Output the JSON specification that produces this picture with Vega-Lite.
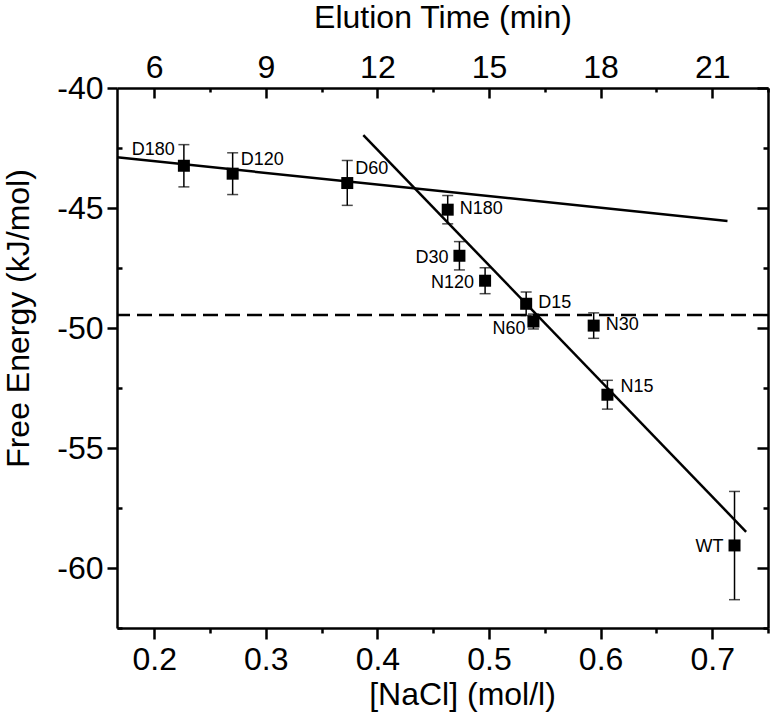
{
  "$schema": "https://vega.github.io/schema/vega-lite/v6.json",
  "autosize": "none",
  "padding": {"left": 117, "top": 88, "right": 4, "bottom": 95},
  "width": 651,
  "height": 540,
  "background": "white",
  "config": {
    "font": "Liberation Sans",
    "view": {"stroke": null},
    "axis": {
      "grid": false,
      "domainColor": "black",
      "tickColor": "black",
      "labelColor": "black",
      "titleColor": "black",
      "domainWidth": 2.5,
      "tickWidth": 2.5,
      "labelFont": "Liberation Sans",
      "titleFont": "Liberation Sans",
      "titleFontWeight": "normal",
      "labelFontSize": 32,
      "titleFontSize": 32
    }
  },
  "datasets": {
    "pts": [
      {"label": "D180", "nacl": 0.2266, "energy": -43.24, "lo": -44.12, "hi": -42.36},
      {"label": "D120", "nacl": 0.2703, "energy": -43.57, "lo": -44.44, "hi": -42.70},
      {"label": "D60", "nacl": 0.373, "energy": -43.96, "lo": -44.89, "hi": -43.02},
      {"label": "N180", "nacl": 0.463, "energy": -45.07, "lo": -45.66, "hi": -44.48},
      {"label": "D30", "nacl": 0.4735, "energy": -46.99, "lo": -47.58, "hi": -46.40},
      {"label": "N120", "nacl": 0.4965, "energy": -48.03, "lo": -48.57, "hi": -47.49},
      {"label": "D15", "nacl": 0.5333, "energy": -48.99, "lo": -49.48, "hi": -48.50},
      {"label": "N60", "nacl": 0.5398, "energy": -49.73, "lo": -50.04, "hi": -49.42},
      {"label": "N30", "nacl": 0.5938, "energy": -49.90, "lo": -50.43, "hi": -49.37},
      {"label": "N15", "nacl": 0.6061, "energy": -52.78, "lo": -53.38, "hi": -52.18},
      {"label": "WT", "nacl": 0.72, "energy": -59.06, "lo": -61.32, "hi": -56.81}
    ],
    "fits": [
      {"fit": "shallow", "nacl": 0.16667, "energy": -42.89},
      {"fit": "shallow", "nacl": 0.7137, "energy": -45.54},
      {"fit": "steep", "nacl": 0.3874, "energy": -41.96},
      {"fit": "steep", "nacl": 0.7304, "energy": -58.49}
    ],
    "ref": [{"energy": -49.46}]
  },
  "layer": [
    {
      "data": {"name": "ref"},
      "mark": {"type": "rule", "strokeDash": [15, 7], "strokeWidth": 2.5, "color": "black"},
      "encoding": {
        "y": {
          "field": "energy", "type": "quantitative",
          "scale": {"domain": [-62.5, -40], "nice": false, "zero": false},
          "axis": {"orient": "left", "values": [-60, -55, -50, -45, -40], "tickSize": 10, "labelPadding": 4, "labelExpr": "'' + datum.value", "title": "Free Energy (kJ/mol)", "titlePadding": 21, "titleY": 230}
        }
      }
    },
    {
      "data": {"name": "fits"},
      "mark": {"type": "line", "strokeWidth": 2.5, "color": "black"},
      "encoding": {
        "x": {
          "field": "nacl", "type": "quantitative",
          "scale": {"domain": [0.16667, 0.75], "nice": false, "zero": false},
          "axis": {"orient": "bottom", "values": [0.2, 0.3, 0.4, 0.5, 0.6, 0.7], "tickSize": 11, "labelPadding": 5, "labelExpr": "format(datum.value, '.1f')", "title": "[NaCl] (mol/l)", "titlePadding": 4, "titleX": 345}
        },
        "y": {
          "field": "energy", "type": "quantitative",
          "axis": {"orient": "right", "values": [-60, -55, -50, -45, -40], "tickSize": -11, "labels": false, "title": null}
        },
        "detail": {"field": "fit"}
      }
    },
    {
      "data": {"name": "pts"},
      "mark": {"type": "rule", "strokeWidth": 1.5, "color": "black"},
      "encoding": {
        "x": {
          "field": "nacl", "type": "quantitative",
          "axis": {"orient": "top", "values": [0.2, 0.3, 0.4, 0.5, 0.6, 0.7], "tickSize": -10, "labelPadding": 14, "labelExpr": "format(datum.value * 30, 'd')", "title": "Elution Time (min)", "titlePadding": 17}
        },
        "y": {
          "field": "lo", "type": "quantitative",
          "axis": {"orient": "left", "values": [-62.5, -57.5, -52.5, -47.5, -42.5], "tickSize": -5, "labels": false, "domain": false, "title": null}
        },
        "y2": {"field": "hi"}
      }
    },
    {
      "data": {"name": "pts"},
      "mark": {"type": "tick", "orient": "horizontal", "size": 11, "thickness": 1.5, "color": "black"},
      "encoding": {
        "x": {
          "field": "nacl", "type": "quantitative",
          "axis": {"orient": "bottom", "values": [0.25, 0.35, 0.45, 0.55, 0.65, 0.75], "tickSize": 5, "labels": false, "domain": false, "title": null}
        },
        "y": {
          "field": "lo", "type": "quantitative",
          "axis": {"orient": "right", "values": [-62.5, -57.5, -52.5, -47.5, -42.5], "tickSize": -5, "labels": false, "domain": false, "title": null}
        }
      }
    },
    {
      "data": {"name": "pts"},
      "mark": {"type": "tick", "orient": "horizontal", "size": 11, "thickness": 1.5, "color": "black"},
      "encoding": {
        "x": {
          "field": "nacl", "type": "quantitative",
          "axis": {"orient": "top", "values": [0.25, 0.35, 0.45, 0.55, 0.65, 0.75], "tickSize": -4, "labels": false, "domain": false, "title": null}
        },
        "y": {"field": "hi", "type": "quantitative", "axis": null}
      }
    },
    {
      "data": {"name": "pts"},
      "mark": {"type": "point", "shape": "square", "size": 144, "filled": true, "color": "black", "opacity": 1},
      "encoding": {
        "x": {"field": "nacl", "type": "quantitative", "axis": null},
        "y": {"field": "energy", "type": "quantitative", "axis": null}
      }
    },
    {
      "data": {"name": "pts"},
      "transform": [{"filter": {"field": "label", "oneOf": ["D180"]}}],
      "mark": {"type": "text", "fontSize": 18, "align": "right", "baseline": "middle", "dx": -9, "dy": -16, "color": "black"},
      "encoding": {
        "x": {"field": "nacl", "type": "quantitative", "axis": null},
        "y": {"field": "energy", "type": "quantitative", "axis": null},
        "text": {"field": "label"}
      }
    },
    {
      "data": {"name": "pts"},
      "transform": [{"filter": {"field": "label", "oneOf": ["D120", "D60"]}}],
      "mark": {"type": "text", "fontSize": 18, "align": "left", "baseline": "middle", "dx": 8, "dy": -14, "color": "black"},
      "encoding": {
        "x": {"field": "nacl", "type": "quantitative", "axis": null},
        "y": {"field": "energy", "type": "quantitative", "axis": null},
        "text": {"field": "label"}
      }
    },
    {
      "data": {"name": "pts"},
      "transform": [{"filter": {"field": "label", "oneOf": ["N15"]}}],
      "mark": {"type": "text", "fontSize": 18, "align": "left", "baseline": "middle", "dx": 13, "dy": -8, "color": "black"},
      "encoding": {
        "x": {"field": "nacl", "type": "quantitative", "axis": null},
        "y": {"field": "energy", "type": "quantitative", "axis": null},
        "text": {"field": "label"}
      }
    },
    {
      "data": {"name": "pts"},
      "transform": [{"filter": {"field": "label", "oneOf": ["N180", "D15", "N30"]}}],
      "mark": {"type": "text", "fontSize": 18, "align": "left", "baseline": "middle", "dx": 12, "dy": -1, "color": "black"},
      "encoding": {
        "x": {"field": "nacl", "type": "quantitative", "axis": null},
        "y": {"field": "energy", "type": "quantitative", "axis": null},
        "text": {"field": "label"}
      }
    },
    {
      "data": {"name": "pts"},
      "transform": [{"filter": {"field": "label", "oneOf": ["D30", "N120", "WT"]}}],
      "mark": {"type": "text", "fontSize": 18, "align": "right", "baseline": "middle", "dx": -11, "dy": 2, "color": "black"},
      "encoding": {
        "x": {"field": "nacl", "type": "quantitative", "axis": null},
        "y": {"field": "energy", "type": "quantitative", "axis": null},
        "text": {"field": "label"}
      }
    },
    {
      "data": {"name": "pts"},
      "transform": [{"filter": {"field": "label", "oneOf": ["N60"]}}],
      "mark": {"type": "text", "fontSize": 18, "align": "right", "baseline": "middle", "dx": -8, "dy": 7, "color": "black"},
      "encoding": {
        "x": {"field": "nacl", "type": "quantitative", "axis": null},
        "y": {"field": "energy", "type": "quantitative", "axis": null},
        "text": {"field": "label"}
      }
    }
  ],
  "resolve": {"axis": {"x": "independent", "y": "independent"}}
}
